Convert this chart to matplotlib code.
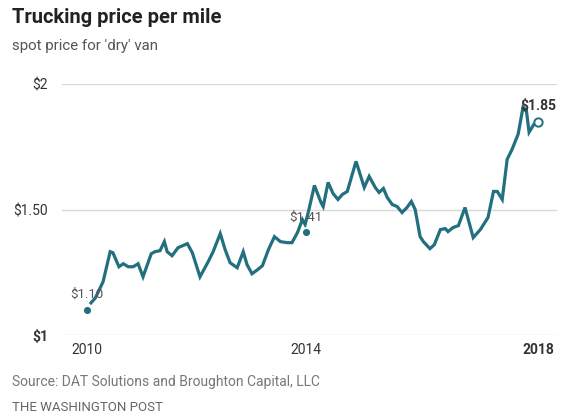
import matplotlib
matplotlib.use("Agg")
from matplotlib import pyplot as plt

plt.rcParams["font.family"] = ["Roboto", "DejaVu Sans"]

# Monthly spot price for dry van, dollars per mile (decimal years)
years = [
    2010.07, 2010.15, 2010.29, 2010.42, 2010.47, 2010.58, 2010.66, 2010.75, 2010.84, 2010.93,
    2011.02, 2011.17, 2011.24, 2011.33, 2011.41, 2011.46, 2011.55, 2011.66, 2011.83, 2011.92,
    2012.06, 2012.21, 2012.30, 2012.43, 2012.52, 2012.61, 2012.74, 2012.85, 2012.92,
    2013.01, 2013.11, 2013.20, 2013.31, 2013.42, 2013.53, 2013.65, 2013.74, 2013.84, 2013.93, 2013.98,
    2014.05, 2014.15, 2014.27, 2014.31, 2014.40, 2014.49, 2014.58, 2014.66, 2014.75, 2014.91,
    2015.06, 2015.15, 2015.26, 2015.33, 2015.41, 2015.48, 2015.57, 2015.66, 2015.75, 2015.84, 2015.92, 2015.99,
    2016.08, 2016.14, 2016.26, 2016.34, 2016.45, 2016.54, 2016.59, 2016.68, 2016.78, 2016.90,
    2017.05, 2017.18, 2017.32, 2017.42, 2017.49, 2017.58, 2017.67, 2017.76, 2017.87, 2017.96,
    2018.02, 2018.07, 2018.16, 2018.24,
]
prices = [
    1.128, 1.148, 1.212, 1.332, 1.328, 1.272, 1.284, 1.272, 1.272, 1.284,
    1.232, 1.324, 1.332, 1.336, 1.372, 1.332, 1.316, 1.348, 1.364, 1.328,
    1.232, 1.292, 1.332, 1.404, 1.340, 1.288, 1.268, 1.332, 1.280,
    1.244, 1.260, 1.276, 1.340, 1.392, 1.372, 1.368, 1.368, 1.408, 1.460, 1.440,
    1.500, 1.596, 1.528, 1.512, 1.608, 1.564, 1.540, 1.560, 1.572, 1.692,
    1.588, 1.632, 1.588, 1.568, 1.584, 1.548, 1.520, 1.512, 1.488, 1.508, 1.532, 1.500,
    1.392, 1.372, 1.344, 1.360, 1.420, 1.424, 1.412, 1.428, 1.436, 1.508,
    1.388, 1.420, 1.468, 1.572, 1.572, 1.540, 1.700, 1.740, 1.800, 1.908,
    1.896, 1.808, 1.840, 1.85,
]

# annual averages marked with dots
dot_years = [2010.0, 2014.0]
dot_prices = [1.10, 1.41]
last_label = "$1.85"

yticks = [1.0, 1.5, 2.0]
ytick_labels = ["$1", "$1.50", "$2"]
xticks = [2010, 2014, 2018.24]
xtick_labels = ["2010", "2014", "2018"]

teal = "#22707f"

fig = plt.figure(figsize=(5.62, 4.17), dpi=100)
ax = fig.add_axes([0.1103, 0.1966, 0.8808, 0.6019])

ax.plot(years, prices, color=teal, lw=2.3, solid_joinstyle="miter", zorder=3)
ax.scatter(dot_years, dot_prices, s=40, color=teal, edgecolors="white",
           linewidths=1.2, zorder=4, clip_on=False)
ax.scatter([years[-1]], [prices[-1]], s=36, facecolors="white", edgecolors=teal,
           linewidths=1.4, zorder=5, clip_on=False)

for x, v in zip(dot_years, dot_prices):
    ax.text(x, v + 0.035, f"${v:.2f}", ha="center", va="bottom",
            fontsize=9.5, color="#555555", zorder=6)
ax.text(years[-1], prices[-1] + 0.035, last_label, ha="center", va="bottom",
        fontsize=10, fontweight="bold", color="#333333", zorder=6)

ax.set_xlim(2009.54, 2018.58)
ax.set_ylim(1.0, 2.0)
ax.set_yticks(yticks)
ax.set_yticklabels(ytick_labels)
ax.set_xticks(xticks)
ax.set_xticklabels(xtick_labels)
ax.get_yticklabels()[0].set_fontweight("bold")
ax.get_xticklabels()[-1].set_fontweight("bold")

ax.tick_params(axis="both", length=0, labelsize=10, colors="#333333")
ax.tick_params(axis="y", pad=10)
ax.tick_params(axis="x", pad=6)
ax.grid(axis="y", color="#d9d9d9", lw=1)
ax.set_axisbelow(True)
for s in ax.spines.values():
    s.set_visible(False)

fig.text(0.021, 0.958, "Trucking price per mile", fontsize=14.5, fontweight="bold",
         color="#222222", va="center")
fig.text(0.021, 0.89, "spot price for 'dry' van", fontsize=10.8, color="#555555", va="center")
fig.text(0.021, 0.083, "Source: DAT Solutions and Broughton Capital, LLC", fontsize=10,
         color="#777777", va="center")
fig.text(0.021, 0.022, "THE WASHINGTON POST", fontsize=9.5, color="#666666", va="center")

fig.savefig("out.png", dpi=100)
